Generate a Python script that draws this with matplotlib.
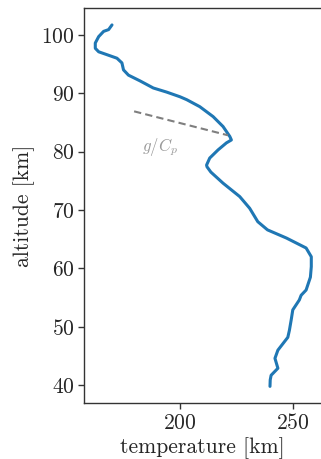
import matplotlib
matplotlib.use("Agg")
import matplotlib.pyplot as plt

plt.rcParams["font.family"] = ["cmr10", "DejaVu Serif"]
plt.rcParams["mathtext.fontset"] = "cm"
plt.rcParams["axes.formatter.use_mathtext"] = True

# Temperature profile (K) against altitude (km)
temperature = [169.9, 168.4, 166.2, 164.0, 162.5, 162.5, 164.0, 167.7, 172.1, 174.3,
               175.0, 177.2, 182.4, 188.2, 194.1, 200.0, 203.0, 208.8, 214.7, 219.1,
               222.1, 222.8, 220.6, 216.9, 213.2, 211.8, 212.0, 213.7, 219.1, 226.5,
               230.9, 234.5, 238.8, 247.2, 255.9, 258.2, 258.2, 257.8, 255.9, 253.7,
               252.9, 250.0, 249.3, 248.5, 247.8, 243.4, 242.1, 243.4, 240.4, 240.0,
               239.9]
altitude = [101.7, 100.9, 100.6, 99.7, 98.6, 97.7, 97.1, 96.6, 96.0, 95.2,
            94.0, 93.1, 92.1, 90.9, 90.2, 89.4, 88.9, 87.7, 86.0, 84.3,
            82.6, 82.0, 81.5, 80.3, 78.9, 77.7, 77.4, 76.5, 74.6, 72.3,
            70.3, 68.0, 66.6, 65.2, 63.5, 62.0, 60.3, 58.5, 56.3, 55.4,
            54.6, 52.9, 51.2, 49.4, 48.2, 46.0, 44.6, 42.9, 41.7, 40.9,
            39.8]

# Dry adiabatic lapse-rate reference segment
lapse_T = [179.7, 221.3]
lapse_z = [86.9, 82.8]

xticks = [200, 250]
yticks = [40, 50, 60, 70, 80, 90, 100]

fig = plt.figure(figsize=(3.21, 4.59), dpi=100)
ax = fig.add_axes([84 / 321, 1 - 403.3 / 459, 1 - 84 / 321, (403.3 - 8) / 459])

ax.plot(temperature, altitude, color="#1f77b4", lw=2.2, solid_capstyle="round")
ax.plot(lapse_T, lapse_z, color="#7f7f7f", lw=1.5, ls=(0, (3.5, 2)))
ax.text(191.2, 80.8, r"$g/C_p$", color="#9a9a9a", fontsize=12,
        ha="center", va="center")

ax.set_xlim(157.5, 262.5)
ax.set_ylim(36.9, 104.6)
ax.set_xticks(xticks)
ax.set_yticks(yticks)

ax.set_xlabel("temperature [km]", fontsize=15.6, color="#262626", labelpad=3)
ax.set_ylabel("altitude [km]", fontsize=15.6, color="#262626", labelpad=4)

ax.tick_params(direction="out", length=4, width=1.0, colors="#333333",
               labelsize=15.5, labelcolor="#262626", pad=3)
for side in ("left", "bottom", "top"):
    ax.spines[side].set_color("#333333")
    ax.spines[side].set_linewidth(1.0)
ax.spines["right"].set_visible(False)

fig.savefig("out.png", dpi=100)
